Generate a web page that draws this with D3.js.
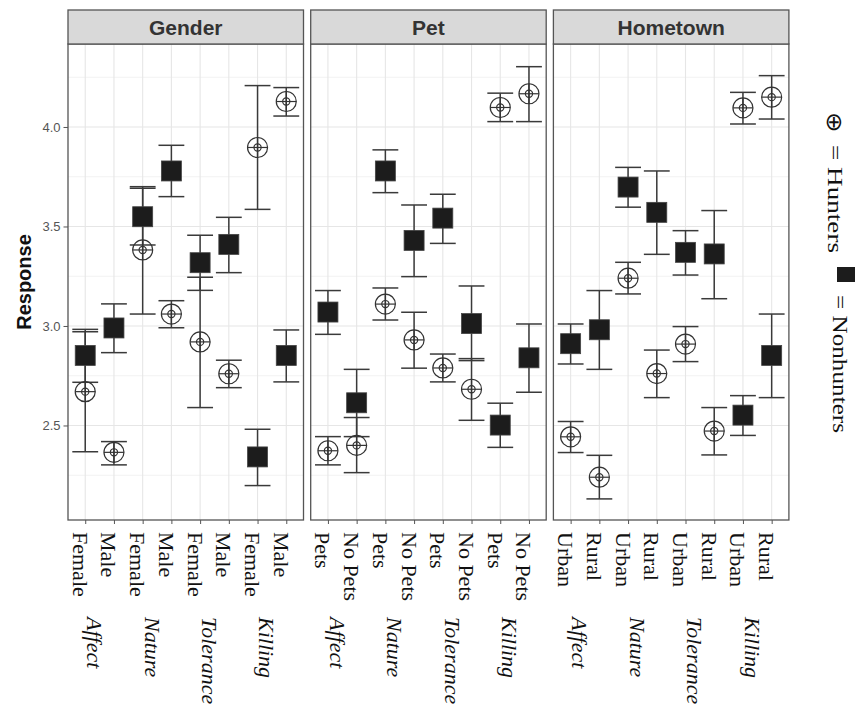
<!DOCTYPE html>
<html>
<head>
<meta charset="utf-8">
<script src="https://cdn.jsdelivr.net/npm/d3@7"></script>
<style>
  body { margin: 0; background: #fff; }
  svg { display: block; }
</style>
</head>
<body>
<div class="chart-container"></div>
<script>
const panels = ['Gender', 'Pet', 'Hometown'];
const scales = ['Affect', 'Nature', 'Tolerance', 'Killing'];
const genderLevels = ['Female', 'Male'];
const petLevels = ['Pets', 'No Pets'];
const hometownLevels = ['Urban', 'Rural'];
const yTicks = [2.5, 3.0, 3.5, 4.0];
const yMinorTicks = [2.25, 2.75, 3.25, 3.75, 4.25];

// order: Affect L1, Affect L2, Nature L1, Nature L2, Tolerance L1, Tolerance L2, Killing L1, Killing L2
const genderHuntMean = [2.670, 2.365, 3.382, 3.060, 2.920, 2.760, 3.897, 4.128];
const genderHuntLow  = [2.368, 2.302, 3.060, 2.991, 2.590, 2.690, 3.586, 4.055];
const genderHuntHigh = [2.971, 2.419, 3.700, 3.127, 3.245, 2.828, 4.208, 4.198];
const genderNonMean  = [2.852, 2.990, 3.549, 3.779, 3.318, 3.410, 2.342, 2.852];
const genderNonLow   = [2.717, 2.866, 3.407, 3.650, 3.179, 3.268, 2.198, 2.719];
const genderNonHigh  = [2.983, 3.111, 3.692, 3.908, 3.456, 3.546, 2.481, 2.980];

const petHuntMean = [2.373, 2.400, 3.110, 2.930, 2.789, 2.682, 4.098, 4.167];
const petHuntLow  = [2.302, 2.263, 3.030, 2.788, 2.719, 2.526, 4.027, 4.027];
const petHuntHigh = [2.444, 2.540, 3.191, 3.069, 2.859, 2.836, 4.170, 4.303];
const petNonMean  = [3.070, 2.614, 3.779, 3.430, 3.542, 3.012, 2.502, 2.840];
const petNonLow   = [2.958, 2.444, 3.670, 3.248, 3.415, 2.826, 2.390, 2.667];
const petNonHigh  = [3.178, 2.782, 3.885, 3.608, 3.662, 3.201, 2.612, 3.010];

const homeHuntMean = [2.443, 2.240, 3.240, 2.761, 2.909, 2.472, 4.096, 4.150];
const homeHuntLow  = [2.364, 2.131, 3.161, 2.640, 2.821, 2.352, 4.015, 4.040];
const homeHuntHigh = [2.520, 2.350, 3.320, 2.879, 2.997, 2.590, 4.174, 4.258];
const homeNonMean  = [2.911, 2.981, 3.698, 3.571, 3.370, 3.362, 2.552, 2.852];
const homeNonLow   = [2.809, 2.782, 3.597, 3.360, 3.256, 3.137, 2.450, 2.640];
const homeNonHigh  = [3.010, 3.178, 3.797, 3.779, 3.479, 3.580, 2.650, 3.060];

const panelLevels = [genderLevels, petLevels, hometownLevels];
const panelSeries = [
  {hunt: [genderHuntMean, genderHuntLow, genderHuntHigh], non: [genderNonMean, genderNonLow, genderNonHigh]},
  {hunt: [petHuntMean, petHuntLow, petHuntHigh], non: [petNonMean, petNonLow, petNonHigh]},
  {hunt: [homeHuntMean, homeHuntLow, homeHuntHigh], non: [homeNonMean, homeNonLow, homeNonHigh]}
];

function buildRows(p){
  const rows = [];
  scales.forEach((s, si) => {
    panelLevels[p].forEach((lv, li) => {
      const i = si * 2 + li;
      const key = s + '|' + lv;
      const [hm, hl, hh] = panelSeries[p].hunt.map(a => a[i]);
      const [nm, nl, nh] = panelSeries[p].non.map(a => a[i]);
      rows.push({key, level: lv, scale: s, group: 'Hunters', mean: hm, low: hl, high: hh});
      rows.push({key, level: lv, scale: s, group: 'Nonhunters', mean: nm, low: nl, high: nh});
    });
  });
  return rows;
}

const svg_width = 855;
const svg_height = 708;
const panel_left = 68;
const panel_width = 235.5;
const panel_gap = 7.2;
const strip_top = 10;
const strip_h = 34;
const panel_top = strip_top + strip_h;
const panel_bottom = 520;
const border = '#555';
const serif = '"Liberation Serif", "Times New Roman", serif';
const sans = '"Liberation Sans", Arial, sans-serif';

const svg = d3.select('.chart-container')
  .append('svg')
  .attr('width', svg_width).attr('height', svg_height);

const yScale = d3.scaleLinear().domain([2.025, 4.417]).range([panel_bottom, panel_top]);

panels.forEach((name, p) => {
  const x0 = panel_left + p * (panel_width + panel_gap);
  const rows = buildRows(p);
  const keys = Array.from(new Set(rows.map(d => d.key)));
  const xScale = d3.scalePoint().domain(keys).range([x0, x0 + panel_width]).padding(0.6);
  const capHalf = xScale.step() * 0.45;

  const g = svg.append('g').attr('class', 'panel');

  // grid
  g.selectAll('.hminor').data(yMinorTicks).join('line')
    .attr('x1', x0).attr('x2', x0 + panel_width)
    .attr('y1', d => yScale(d)).attr('y2', d => yScale(d))
    .attr('stroke', '#f2f2f2').attr('stroke-width', 1);
  g.selectAll('.hmajor').data(yTicks).join('line')
    .attr('x1', x0).attr('x2', x0 + panel_width)
    .attr('y1', d => yScale(d)).attr('y2', d => yScale(d))
    .attr('stroke', '#e6e6e6').attr('stroke-width', 1.1);
  g.selectAll('.vmajor').data(keys).join('line')
    .attr('x1', d => xScale(d)).attr('x2', d => xScale(d))
    .attr('y1', panel_top).attr('y2', panel_bottom)
    .attr('stroke', '#e6e6e6').attr('stroke-width', 1.1);

  // error bars
  const bars = g.selectAll('.errbar').data(rows).join('g').attr('class', 'errbar')
    .attr('stroke', '#3a3a3a').attr('stroke-width', 1.5);
  bars.append('line')
    .attr('x1', d => xScale(d.key)).attr('x2', d => xScale(d.key))
    .attr('y1', d => yScale(d.low)).attr('y2', d => yScale(d.high));
  bars.append('line')
    .attr('x1', d => xScale(d.key) - capHalf).attr('x2', d => xScale(d.key) + capHalf)
    .attr('y1', d => yScale(d.low)).attr('y2', d => yScale(d.low));
  bars.append('line')
    .attr('x1', d => xScale(d.key) - capHalf).attr('x2', d => xScale(d.key) + capHalf)
    .attr('y1', d => yScale(d.high)).attr('y2', d => yScale(d.high));

  // nonhunters: filled squares
  g.selectAll('.non').data(rows.filter(d => d.group === 'Nonhunters')).join('rect')
    .attr('class', 'non')
    .attr('x', d => xScale(d.key) - 10).attr('y', d => yScale(d.mean) - 10)
    .attr('width', 20).attr('height', 20)
    .attr('fill', '#1c1c1c').attr('stroke', '#444').attr('stroke-width', 0.8);

  // hunters: circle with cross
  const hunt = g.selectAll('.hunt').data(rows.filter(d => d.group === 'Hunters')).join('g')
    .attr('class', 'hunt')
    .attr('transform', d => `translate(${xScale(d.key)},${yScale(d.mean)})`)
    .attr('fill', 'none').attr('stroke', '#333').attr('stroke-width', 1.2);
  hunt.append('circle').attr('r', 10);
  hunt.append('circle').attr('r', 3.6);
  hunt.append('line').attr('x1', -10).attr('x2', 10);
  hunt.append('line').attr('y1', -10).attr('y2', 10);

  // border and strip
  g.append('rect')
    .attr('x', x0).attr('y', panel_top).attr('width', panel_width).attr('height', panel_bottom - panel_top)
    .attr('fill', 'none').attr('stroke', border).attr('stroke-width', 1.3);
  g.append('rect')
    .attr('x', x0).attr('y', strip_top).attr('width', panel_width).attr('height', strip_h)
    .attr('fill', '#d9d9d9').attr('stroke', border).attr('stroke-width', 1.3);
  g.append('text')
    .attr('x', x0 + panel_width / 2).attr('y', strip_top + strip_h / 2 + 8)
    .attr('text-anchor', 'middle')
    .style('font-family', sans).style('font-size', '21px').style('font-weight', 'bold')
    .style('fill', '#333')
    .text(name);

  // x axis
  const xAxis = d3.axisBottom(xScale).tickSizeInner(4).tickSizeOuter(0).tickFormat(() => '');
  const xAxisDraw = g.append('g').attr('class', 'x axis')
    .attr('transform', `translate(0,${panel_bottom})`)
    .call(xAxis);
  xAxisDraw.select('.domain').remove();
  xAxisDraw.selectAll('.tick line').attr('stroke', '#555');

  g.selectAll('.xlab').data(keys).join('text')
    .attr('transform', d => `translate(${xScale(d) - 12.5},532) rotate(90)`)
    .style('font-family', serif).style('font-size', '22px').style('fill', '#111')
    .text(d => d.split('|')[1]);

  g.selectAll('.scalelab').data(scales).join('text')
    .attr('transform', s => {
      const mid = (xScale(s + '|' + panelLevels[p][0]) + xScale(s + '|' + panelLevels[p][1])) / 2;
      return `translate(${mid - 12.5},617) rotate(90)`;
    })
    .style('font-family', serif).style('font-size', '22px').style('font-style', 'italic')
    .style('fill', '#111')
    .text(s => s);
});

// y axis
const yAxis = d3.axisLeft(yScale).tickValues(yTicks).tickFormat(d3.format('.1f'))
  .tickSizeInner(4.5).tickSizeOuter(0);
const yAxisDraw = svg.append('g').attr('class', 'y axis')
  .attr('transform', `translate(${panel_left},0)`)
  .call(yAxis);
yAxisDraw.select('.domain').remove();
yAxisDraw.selectAll('.tick line').attr('stroke', '#555');
yAxisDraw.selectAll('text')
  .style('font-family', sans).style('font-size', '13px').style('fill', '#555');

svg.append('text')
  .attr('transform', `translate(31,${(panel_top + panel_bottom) / 2}) rotate(-90)`)
  .attr('text-anchor', 'middle')
  .style('font-family', sans).style('font-size', '20px').style('font-weight', 'bold')
  .style('fill', '#111')
  .text('Response');

// legend
const legend = svg.append('g').attr('class', 'legend')
  .style('font-family', serif).style('font-size', '20px').style('fill', '#111');
legend.append('text')
  .attr('transform', 'translate(827,112) rotate(90)')
  .attr('textLength', 20).attr('lengthAdjust', 'spacingAndGlyphs')
  .style('font-size', '22px')
  .text('⊕');
legend.append('text')
  .attr('transform', 'translate(828,145) rotate(90)')
  .attr('textLength', 108).attr('lengthAdjust', 'spacingAndGlyphs')
  .text('= Hunters');
legend.append('rect')
  .attr('x', 837).attr('y', 267).attr('width', 18).attr('height', 15)
  .attr('fill', '#1c1c1c');
legend.append('text')
  .attr('transform', 'translate(833,295) rotate(90)')
  .attr('textLength', 138).attr('lengthAdjust', 'spacingAndGlyphs')
  .text('= Nonhunters');
</script>
</body>
</html>
